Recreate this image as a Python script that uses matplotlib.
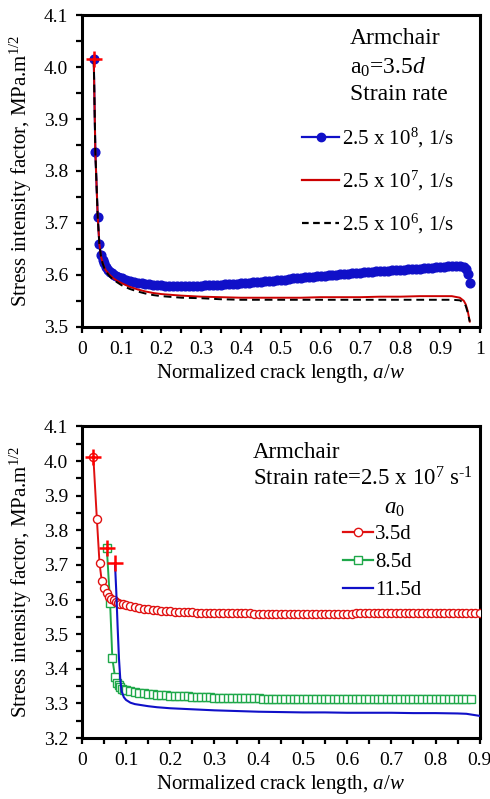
import numpy as np
import matplotlib
matplotlib.use("Agg")
import matplotlib.pyplot as plt
from matplotlib.ticker import MultipleLocator, FuncFormatter, FormatStrFormatter
from matplotlib.lines import Line2D

plt.rcParams['font.family'] = ['Liberation Serif', 'DejaVu Serif']
plt.rcParams['mathtext.fontset'] = 'custom'
plt.rcParams['mathtext.rm'] = 'Liberation Serif'
plt.rcParams['mathtext.it'] = 'Liberation Serif:italic'
plt.rcParams['mathtext.bf'] = 'Liberation Serif:bold'

# ---------------- Top panel data ----------------
top_blue_x = ([0.03, 0.034, 0.04, 0.044, 0.048, 0.052, 0.056, 0.06, 0.065, 0.07,
               0.075, 0.08, 0.085, 0.09, 0.095]
              + list(np.round(np.arange(0.10, 0.9651, 0.01), 3))
              + [0.965, 0.97, 0.975])
top_blue_y = [4.015, 3.836, 3.711, 3.660, 3.638, 3.628, 3.622, 3.615, 3.610, 3.606,
              3.603, 3.600, 3.598, 3.596, 3.594,
              # 0.10 - 0.19
              3.593, 3.590, 3.588, 3.586, 3.585, 3.584, 3.583, 3.582, 3.581, 3.580,
              # 0.20 - 0.29
              3.580, 3.579, 3.579, 3.578, 3.578, 3.578, 3.578, 3.578, 3.578, 3.579,
              # 0.30 - 0.39
              3.579, 3.580, 3.580, 3.580, 3.581, 3.581, 3.582, 3.582, 3.583, 3.583,
              # 0.40 - 0.49
              3.584, 3.585, 3.585, 3.586, 3.587, 3.587, 3.588, 3.589, 3.589, 3.590,
              # 0.50 - 0.59
              3.591, 3.591, 3.592, 3.593, 3.593, 3.594, 3.595, 3.595, 3.596, 3.597,
              # 0.60 - 0.69
              3.597, 3.598, 3.599, 3.599, 3.600, 3.601, 3.601, 3.602, 3.603, 3.603,
              # 0.70 - 0.79
              3.604, 3.605, 3.605, 3.606, 3.607, 3.607, 3.608, 3.608, 3.609, 3.609,
              # 0.80 - 0.89
              3.610, 3.610, 3.611, 3.611, 3.612, 3.612, 3.613, 3.613, 3.614, 3.615,
              # 0.90 - 0.96
              3.615, 3.616, 3.617, 3.617, 3.618, 3.618, 3.616,
              3.612, 3.602, 3.584]
top_blue_x = top_blue_x[:len(top_blue_y)]

top_line_x = [0.03, 0.034, 0.04, 0.044, 0.048, 0.052, 0.056, 0.06, 0.07, 0.08,
              0.09, 0.10, 0.12, 0.14, 0.16, 0.18, 0.20, 0.25, 0.30, 0.35,
              0.40, 0.45, 0.50, 0.55, 0.60, 0.65, 0.70, 0.75, 0.80, 0.85,
              0.90, 0.93, 0.95, 0.96, 0.965, 0.97, 0.975]
top_red_y = [4.015, 3.836, 3.711, 3.660, 3.636, 3.624, 3.616, 3.609, 3.600, 3.593,
             3.588, 3.584, 3.577, 3.572, 3.568, 3.565, 3.563, 3.560, 3.558, 3.557,
             3.556, 3.556, 3.556, 3.556, 3.557, 3.557, 3.557, 3.558, 3.558, 3.559,
             3.559, 3.559, 3.556, 3.550, 3.543, 3.530, 3.510]
top_black_y = [4.015, 3.836, 3.711, 3.660, 3.636, 3.623, 3.614, 3.607, 3.597, 3.590,
               3.585, 3.580, 3.573, 3.568, 3.564, 3.561, 3.559, 3.556, 3.555, 3.553,
               3.552, 3.552, 3.552, 3.552, 3.552, 3.552, 3.552, 3.552, 3.552, 3.552,
               3.552, 3.552, 3.551, 3.546, 3.540, 3.527, 3.510]
top_labels = ['2.5 x 10$^{8}$, 1/s', '2.5 x 10$^{7}$, 1/s', '2.5 x 10$^{6}$, 1/s']

# ---------------- Bottom panel data ----------------
bot_red_x = ([0.026, 0.034, 0.040, 0.045, 0.050, 0.056, 0.062, 0.067, 0.072, 0.077,
              0.082, 0.087, 0.092]
             + list(np.round(np.arange(0.10, 0.9001, 0.01), 3)))
bot_red_y = [4.013, 3.833, 3.705, 3.654, 3.632, 3.618, 3.608, 3.602, 3.598, 3.594,
             3.591, 3.588, 3.586,
             # 0.10 - 0.19
             3.583, 3.580, 3.578, 3.576, 3.574, 3.572, 3.570, 3.569, 3.568, 3.567,
             # 0.20 - 0.29
             3.566, 3.565, 3.564, 3.564, 3.563, 3.563, 3.562, 3.562, 3.561, 3.561,
             # 0.30 - 0.39
             3.561, 3.560, 3.560, 3.560, 3.560, 3.560, 3.560, 3.560, 3.560, 3.559,
             # 0.40 - 0.49
             3.559, 3.559, 3.559, 3.559, 3.559, 3.559, 3.559, 3.559, 3.559, 3.559,
             # 0.50 - 0.59
             3.559, 3.559, 3.559, 3.559, 3.559, 3.559, 3.559, 3.559, 3.559, 3.559,
             # 0.60 - 0.69
             3.559, 3.559, 3.560, 3.560, 3.560, 3.560, 3.560, 3.560, 3.560, 3.560,
             # 0.70 - 0.79
             3.560, 3.560, 3.560, 3.560, 3.560, 3.560, 3.560, 3.560, 3.560, 3.560,
             # 0.80 - 0.90
             3.560, 3.560, 3.560, 3.560, 3.560, 3.561, 3.561, 3.561, 3.561, 3.561,
             3.561]

bot_green_x = ([0.0565, 0.064, 0.069, 0.075, 0.079, 0.083, 0.087, 0.091, 0.095]
               + list(np.round(np.arange(0.10, 0.8801, 0.01), 3)))
bot_green_y = [3.748, 3.589, 3.430, 3.377, 3.360, 3.352, 3.347, 3.343, 3.340,
               # 0.10 - 0.19
               3.338, 3.335, 3.333, 3.331, 3.329, 3.327, 3.326, 3.325, 3.324, 3.323,
               # 0.20 - 0.29
               3.322, 3.321, 3.321, 3.320, 3.320, 3.319, 3.319, 3.318, 3.318, 3.318,
               # 0.30 - 0.39
               3.317, 3.317, 3.316, 3.316, 3.316, 3.315, 3.315, 3.315, 3.315, 3.315,
               # 0.40 - 0.49
               3.315, 3.314, 3.314, 3.314, 3.314, 3.314, 3.314, 3.314, 3.314, 3.314,
               # 0.50 - 0.59
               3.314, 3.314, 3.314, 3.314, 3.314, 3.314, 3.314, 3.314, 3.314, 3.314,
               # 0.60 - 0.69
               3.314, 3.314, 3.314, 3.314, 3.313, 3.313, 3.313, 3.313, 3.313, 3.313,
               # 0.70 - 0.79
               3.313, 3.313, 3.313, 3.313, 3.313, 3.313, 3.313, 3.313, 3.313, 3.313,
               # 0.80 - 0.88
               3.313, 3.313, 3.313, 3.313, 3.313, 3.313, 3.313, 3.313, 3.312]

bot_blue_x = [0.075, 0.078, 0.081, 0.084, 0.087, 0.090, 0.095, 0.10, 0.11, 0.12,
              0.13, 0.14, 0.15, 0.17, 0.20, 0.25, 0.30, 0.35, 0.40, 0.45,
              0.50, 0.55, 0.60, 0.65, 0.70, 0.75, 0.80, 0.85, 0.87, 0.88, 0.90]
bot_blue_y = [3.705, 3.620, 3.520, 3.430, 3.370, 3.335, 3.318, 3.310, 3.302, 3.298,
              3.296, 3.294, 3.292, 3.289, 3.286, 3.283, 3.280, 3.278, 3.276, 3.275,
              3.274, 3.274, 3.273, 3.273, 3.273, 3.272, 3.272, 3.271, 3.270, 3.268, 3.264]
bot_labels = ['3.5d', '8.5d', '11.5d']

# colours
BLUE = '#1010c8'
RED = '#e01010'
DRED = '#cc0000'
GREEN = '#1fa84a'

TICK_FS = 14
LABEL_FS = 15
NOTE_FS = 17
LEG_FS = 15

fig = plt.figure(figsize=(4.9, 7.99), dpi=100)
ax1 = fig.add_axes([0.167, 0.591, 0.812, 0.390])
ax2 = fig.add_axes([0.167, 0.0763, 0.812, 0.390])

def style(ax, xmax, ymin, ymax):
    ax.set_xlim(0, xmax)
    ax.set_ylim(ymin, ymax)
    ax.xaxis.set_major_locator(MultipleLocator(0.1))
    ax.xaxis.set_minor_locator(MultipleLocator(0.05))
    ax.yaxis.set_major_locator(MultipleLocator(0.1))
    ax.yaxis.set_minor_locator(MultipleLocator(0.05))
    for s in ax.spines.values():
        s.set_linewidth(2.2)
    ax.tick_params(which='both', direction='out', width=1.6, length=4,
                   labelsize=TICK_FS)
    ax.tick_params(axis='x', which='both', pad=6)
    ax.tick_params(axis='y', which='both', pad=6)
    ax.set_xlabel('Normalized crack length, $a/w$', fontsize=LABEL_FS, labelpad=3)
    ax.set_ylabel('Stress intensity factor, MPa.m$^{1/2}$', fontsize=LABEL_FS, labelpad=7)
    ax.yaxis.set_major_formatter(FormatStrFormatter('%.1f'))

# ---- top ----
style(ax1, 1.0, 3.5, 4.1)
ax1.xaxis.set_major_formatter(FuncFormatter(
    lambda v, p: '0' if abs(v) < 1e-9 else ('1' if abs(v - 1) < 1e-9 else f'{v:.1f}')))
ax1.plot(top_blue_x, top_blue_y, '-o', color=BLUE, ms=6.3, lw=1.5, zorder=2)
ax1.plot(top_line_x, top_red_y, '-', color=DRED, lw=1.4, zorder=3)
ax1.plot(top_line_x, top_black_y, '--', color='black', lw=1.4, dashes=(4, 2.5), zorder=4)
ax1.plot(top_blue_x[0], top_blue_y[0], '+', color='red', ms=11, mew=1.8, zorder=5)

ax1.text(0.673, 0.909, 'Armchair', transform=ax1.transAxes, fontsize=NOTE_FS, va='baseline')
ax1.text(0.673, 0.813, 'a$_0$=3.5$d$', transform=ax1.transAxes, fontsize=NOTE_FS, va='baseline')
ax1.text(0.673, 0.728, 'Strain rate', transform=ax1.transAxes, fontsize=NOTE_FS, va='baseline')
h1 = [Line2D([], [], color=BLUE, marker='o', ms=6, lw=1.6),
      Line2D([], [], color=DRED, lw=1.6),
      Line2D([], [], color='black', lw=1.6, ls='--', dashes=(3, 2))]
ax1.legend(h1, top_labels, loc='upper right', bbox_to_anchor=(0.935, 0.645),
           frameon=False, fontsize=LEG_FS, handlelength=1.8, handletextpad=0.12,
           labelspacing=0.9, borderaxespad=0, borderpad=0)

# ---- bottom ----
style(ax2, 0.9, 3.2, 4.1)
ax2.xaxis.set_major_formatter(FuncFormatter(
    lambda v, p: '0' if abs(v) < 1e-9 else f'{v:.1f}'))
ax2.plot(bot_red_x, bot_red_y, '-o', color=RED, mfc='white', mec=RED, ms=5.8,
         mew=1.0, lw=1.4, zorder=3)
ax2.plot(bot_green_x, bot_green_y, '-s', color=GREEN, mfc='white', mec=GREEN, ms=5.8,
         mew=1.0, lw=1.4, zorder=2)
ax2.plot(bot_blue_x, bot_blue_y, '-', color=BLUE, lw=1.5, zorder=4)
for xs, ys in [(bot_red_x, bot_red_y), (bot_green_x, bot_green_y), (bot_blue_x, bot_blue_y)]:
    ax2.plot(xs[0], ys[0], '+', color='red', ms=11, mew=1.8, zorder=5)

ax2.text(0.43, 0.900, 'Armchair', transform=ax2.transAxes, fontsize=16.5, va='baseline')
ax2.text(0.43, 0.811, 'Strain rate=2.5 x 10$^{7}$ s$^{\\text{-}1}$', transform=ax2.transAxes,
         fontsize=16.5, va='baseline')
ax2.text(0.786, 0.737, '$a_0$', transform=ax2.transAxes, fontsize=16.5,
         ha='center', va='center')
h2 = [Line2D([], [], color=RED, marker='o', mfc='white', ms=6, lw=1.6),
      Line2D([], [], color=GREEN, marker='s', mfc='white', ms=6, lw=1.6),
      Line2D([], [], color=BLUE, lw=1.6)]
ax2.legend(h2, bot_labels, loc='upper left', bbox_to_anchor=(0.656, 0.685),
           frameon=False, fontsize=LEG_FS, handlelength=1.45, handletextpad=0.1,
           labelspacing=0.4, borderaxespad=0, borderpad=0)

fig.savefig('out.png', dpi=100)
